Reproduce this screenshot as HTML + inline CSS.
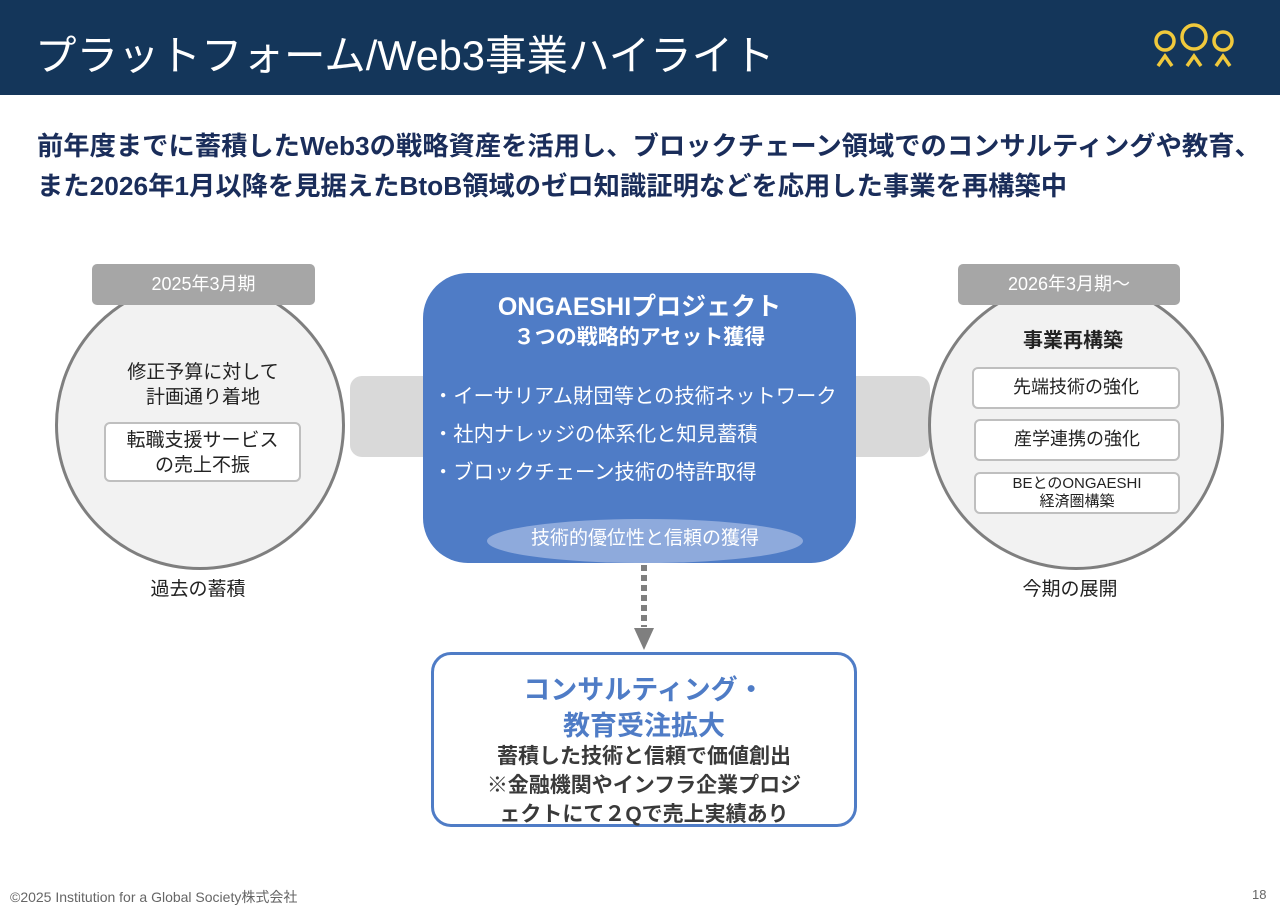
<!DOCTYPE html>
<html><head><meta charset="utf-8"><style>
body{margin:0;width:1280px;height:912px;position:relative;background:#fff;font-family:"Liberation Sans","Noto Sans CJK JP",sans-serif;overflow:hidden}
.a{position:absolute}
.c{text-align:center}
</style></head><body>
<div class="a" style="left:0;top:0;width:1280px;height:95px;background:#14365a"></div>
<div class="a" style="left:35px;top:22px;font-size:41.5px;color:#fff;white-space:nowrap">プラットフォーム/Web3事業ハイライト</div>
<svg class="a" style="left:1150px;top:20px" width="90" height="50" viewBox="0 0 90 50">
<g fill="none" stroke="#f0c93c" stroke-width="3.5">
<circle cx="15" cy="21" r="9"/><circle cx="44" cy="17" r="12"/><circle cx="73" cy="21" r="9"/>
<path d="M8 46 L15 36 L22 46 M37 46 L44 36 L51 46 M66 46 L73 36 L80 46"/></g></svg>
<div class="a" style="left:37px;top:126px;font-size:26.3px;font-weight:bold;color:#1a2d5a;line-height:40px;white-space:nowrap">前年度までに蓄積したWeb3の戦略資産を活用し、ブロックチェーン領域でのコンサルティングや教育、<br>また2026年1月以降を見据えたBtoB領域のゼロ知識証明などを応用した事業を再構築中</div>

<div class="a" style="left:350px;top:376px;width:580px;height:81px;background:#d9d9d9;border-radius:12px"></div>

<div class="a" style="left:55px;top:280px;width:290px;height:290px;border-radius:50%;background:#f2f2f2;border:3px solid #7f7f7f;box-sizing:border-box"></div>
<div class="a c" style="left:92px;top:264px;width:223px;height:41px;background:#a6a6a6;border-radius:5px;color:#fff;font-size:18px;line-height:41px">2025年3月期</div>
<div class="a c" style="left:80px;top:360px;width:246px;font-size:19px;line-height:25px;color:#222">修正予算に対して<br>計画通り着地</div>
<div class="a c" style="left:104px;top:422px;width:197px;height:60px;background:#fff;border:2.5px solid #bfbfbf;border-radius:6px;box-sizing:border-box;font-size:19px;line-height:25px;padding-top:4px;color:#222">転職支援サービス<br>の売上不振</div>
<div class="a c" style="left:75px;top:574px;width:246px;font-size:19px;color:#222">過去の蓄積</div>

<div class="a" style="left:928px;top:280px;width:296px;height:290px;border-radius:50%;background:#f2f2f2;border:3px solid #7f7f7f;box-sizing:border-box"></div>
<div class="a c" style="left:958px;top:264px;width:222px;height:41px;background:#a6a6a6;border-radius:5px;color:#fff;font-size:18px;line-height:41px">2026年3月期～</div>
<div class="a c" style="left:950px;top:324px;width:246px;font-size:20px;font-weight:bold;color:#222">事業再構築</div>
<div class="a c" style="left:972px;top:367px;width:208px;height:42px;background:#fff;border:2.5px solid #bfbfbf;border-radius:6px;box-sizing:border-box;font-size:18px;line-height:36px;color:#222">先端技術の強化</div>
<div class="a c" style="left:974px;top:419px;width:206px;height:42px;background:#fff;border:2.5px solid #bfbfbf;border-radius:6px;box-sizing:border-box;font-size:18px;line-height:36px;color:#222">産学連携の強化</div>
<div class="a c" style="left:974px;top:472px;width:206px;height:42px;background:#fff;border:2.5px solid #bfbfbf;border-radius:6px;box-sizing:border-box;font-size:15px;line-height:18px;padding-top:1px;color:#222">BEとのONGAESHI<br>経済圏構築</div>
<div class="a c" style="left:947px;top:574px;width:246px;font-size:19px;color:#222">今期の展開</div>

<div class="a" style="left:423px;top:273px;width:433px;height:290px;background:#4f7cc6;border-radius:45px"></div>
<div class="a c" style="left:423px;top:292px;width:433px;color:#fff;font-weight:bold;font-size:25px;line-height:30px">ONGAESHIプロジェクト</div>
<div class="a c" style="left:423px;top:324px;width:433px;color:#fff;font-weight:bold;font-size:21px;line-height:28px">３つの戦略的アセット獲得</div>
<div class="a" style="left:433px;top:378px;color:#fff;font-size:20.3px;line-height:38px;white-space:nowrap">・イーサリアム財団等との技術ネットワーク<br>・社内ナレッジの体系化と知見蓄積<br>・ブロックチェーン技術の特許取得</div>
<div class="a c" style="left:487px;top:519px;width:316px;height:44px;border-radius:50%;background:#8eaadc;color:#fff;font-size:19px;line-height:40px">技術的優位性と信頼の獲得</div>

<div class="a" style="left:641px;top:565px;width:6px;height:62px;background:repeating-linear-gradient(#7f7f7f 0 6px,transparent 6px 10px)"></div>
<svg class="a" style="left:634px;top:628px" width="20" height="22"><path d="M0 0 L20 0 L10 22Z" fill="#7f7f7f"/></svg>

<div class="a c" style="left:431px;top:652px;width:426px;height:175px;border:3px solid #4f7cc6;border-radius:20px;box-sizing:border-box;background:#fff"></div>
<div class="a c" style="left:431px;top:672px;width:426px;color:#4f7cc6;font-weight:bold;font-size:27px;line-height:36px">コンサルティング・<br>教育受注拡大</div>
<div class="a c" style="left:431px;top:742px;width:426px;color:#3a3a3a;font-weight:bold;font-size:21px;line-height:29px">蓄積した技術と信頼で価値創出<br>※金融機関やインフラ企業プロジ<br>ェクトにて２Qで売上実績あり</div>

<div class="a" style="left:10px;top:887px;font-size:14px;color:#666">©2025 Institution for a Global Society株式会社</div>
<div class="a" style="left:1252px;top:887px;font-size:13px;color:#666">18</div>
</body></html>
